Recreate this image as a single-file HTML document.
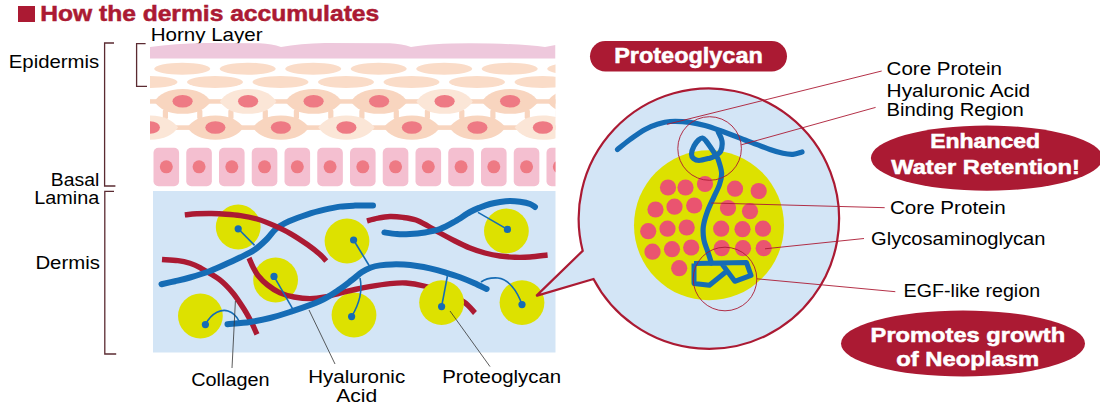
<!DOCTYPE html>
<html lang="en"><head><meta charset="utf-8"><title>How the dermis accumulates</title>
<style>html,body{margin:0;padding:0;background:#fff}svg{display:block}text{font-family:"Liberation Sans",sans-serif}</style></head><body>
<svg width="1100" height="414" viewBox="0 0 1100 414">
<defs><clipPath id="skin"><rect x="150" y="40" width="405.5" height="150"/></clipPath>
<clipPath id="derm"><rect x="153" y="191" width="402.5" height="161.5"/></clipPath></defs>
<rect width="1100" height="414" fill="#fff"/>
<rect x="18" y="6" width="17" height="16" fill="#ab1a33"/>
<text x="40.2" y="21" font-size="21.2" font-weight="bold" stroke="#ab1a33" stroke-width="0.5" fill="#ab1a33" text-anchor="start" textLength="339" lengthAdjust="spacingAndGlyphs">How the dermis accumulates</text>
<text x="150.7" y="40.7" font-size="17.8" fill="#000" text-anchor="start" textLength="111.9" lengthAdjust="spacingAndGlyphs">Horny Layer</text>
<text x="8.8" y="67.6" font-size="17.8" fill="#000" text-anchor="start" textLength="90.4" lengthAdjust="spacingAndGlyphs">Epidermis</text>
<text x="50.8" y="186" font-size="18.3" fill="#000" text-anchor="start" textLength="48.4" lengthAdjust="spacingAndGlyphs">Basal</text>
<text x="34.2" y="203.6" font-size="18.3" fill="#000" text-anchor="start" textLength="65" lengthAdjust="spacingAndGlyphs">Lamina</text>
<text x="35.4" y="268.7" font-size="18.3" fill="#000" text-anchor="start" textLength="64.5" lengthAdjust="spacingAndGlyphs">Dermis</text>
<g fill="none" stroke="#5b2b32" stroke-width="1.3">
<path d="M114 43H104.6V186H115.4"/>
<path d="M145.6 43.6H136.6V86.4H147"/>
<path d="M114 191.4H104.8V354H116.2"/>
</g>
<g clip-path="url(#skin)">
<path d="M150 47 Q175 43.5 205 43 L260 43.3 Q272 44 281 47 Q300 43.5 325 43 L390 43.3 Q402 44 411 47 Q430 43.5 470 43.3 Q520 43.5 545 47 L555.5 45 V58.5 H150Z" fill="#eec8dc"/>
<ellipse cx="182.2" cy="68.7" rx="28" ry="6" fill="#fadcc8"/>
<ellipse cx="247.7" cy="68.7" rx="28" ry="6" fill="#fadcc8"/>
<ellipse cx="313.2" cy="68.7" rx="28" ry="6" fill="#fadcc8"/>
<ellipse cx="378.7" cy="68.7" rx="28" ry="6" fill="#fadcc8"/>
<ellipse cx="444.2" cy="68.7" rx="28" ry="6" fill="#fadcc8"/>
<ellipse cx="509.7" cy="68.7" rx="28" ry="6" fill="#fadcc8"/>
<ellipse cx="575.2" cy="68.7" rx="28" ry="6" fill="#fadcc8"/>
<ellipse cx="149.5" cy="82" rx="28" ry="6" fill="#fadcc8"/>
<ellipse cx="215.0" cy="82" rx="28" ry="6" fill="#fadcc8"/>
<ellipse cx="280.5" cy="82" rx="28" ry="6" fill="#fadcc8"/>
<ellipse cx="346.0" cy="82" rx="28" ry="6" fill="#fadcc8"/>
<ellipse cx="411.5" cy="82" rx="28" ry="6" fill="#fadcc8"/>
<ellipse cx="477.0" cy="82" rx="28" ry="6" fill="#fadcc8"/>
<ellipse cx="542.5" cy="82" rx="28" ry="6" fill="#fadcc8"/>
<rect x="150" y="99.2" width="406" height="4.5" fill="#f8d5bf"/>
<rect x="150" y="125.3" width="406" height="4.6" fill="#f8d5bf"/>
<rect x="162.8" y="109.5" width="5.2" height="9.5" rx="1.5" fill="#f8d5bf"/>
<rect x="197.2" y="109.5" width="5.2" height="9.5" rx="1.5" fill="#f8d5bf"/>
<rect x="228.3" y="109.5" width="5.2" height="9.5" rx="1.5" fill="#f8d5bf"/>
<rect x="262.7" y="109.5" width="5.2" height="9.5" rx="1.5" fill="#f8d5bf"/>
<rect x="293.8" y="109.5" width="5.2" height="9.5" rx="1.5" fill="#f8d5bf"/>
<rect x="328.2" y="109.5" width="5.2" height="9.5" rx="1.5" fill="#f8d5bf"/>
<rect x="359.3" y="109.5" width="5.2" height="9.5" rx="1.5" fill="#f8d5bf"/>
<rect x="393.7" y="109.5" width="5.2" height="9.5" rx="1.5" fill="#f8d5bf"/>
<rect x="424.8" y="109.5" width="5.2" height="9.5" rx="1.5" fill="#f8d5bf"/>
<rect x="459.2" y="109.5" width="5.2" height="9.5" rx="1.5" fill="#f8d5bf"/>
<rect x="490.3" y="109.5" width="5.2" height="9.5" rx="1.5" fill="#f8d5bf"/>
<rect x="524.7" y="109.5" width="5.2" height="9.5" rx="1.5" fill="#f8d5bf"/>
<rect x="555.8" y="109.5" width="5.2" height="9.5" rx="1.5" fill="#f8d5bf"/>
<rect x="590.2" y="109.5" width="5.2" height="9.5" rx="1.5" fill="#f8d5bf"/>
<rect x="621.3" y="109.5" width="5.2" height="9.5" rx="1.5" fill="#f8d5bf"/>
<rect x="655.7" y="109.5" width="5.2" height="9.5" rx="1.5" fill="#f8d5bf"/>
<path d="M154.4 101.4 C159.5 94.0 167.9 89.0 182.6 89.0 C197.3 89.0 205.7 94.0 210.8 101.4 C205.7 108.8 197.3 113.8 182.6 113.8 C167.9 113.8 159.5 108.8 154.4 101.4Z" fill="#f8d5bf"/>
<path d="M219.9 101.4 C225.0 94.0 233.4 89.0 248.1 89.0 C262.8 89.0 271.2 94.0 276.3 101.4 C271.2 108.8 262.8 113.8 248.1 113.8 C233.4 113.8 225.0 108.8 219.9 101.4Z" fill="#fbe6d7"/>
<path d="M285.4 101.4 C290.5 94.0 298.9 89.0 313.6 89.0 C328.3 89.0 336.7 94.0 341.8 101.4 C336.7 108.8 328.3 113.8 313.6 113.8 C298.9 113.8 290.5 108.8 285.4 101.4Z" fill="#f8d5bf"/>
<path d="M350.9 101.4 C356.0 94.0 364.4 89.0 379.1 89.0 C393.8 89.0 402.2 94.0 407.3 101.4 C402.2 108.8 393.8 113.8 379.1 113.8 C364.4 113.8 356.0 108.8 350.9 101.4Z" fill="#f8d5bf"/>
<path d="M416.4 101.4 C421.5 94.0 429.9 89.0 444.6 89.0 C459.3 89.0 467.7 94.0 472.8 101.4 C467.7 108.8 459.3 113.8 444.6 113.8 C429.9 113.8 421.5 108.8 416.4 101.4Z" fill="#fbe6d7"/>
<path d="M481.9 101.4 C487.0 94.0 495.4 89.0 510.1 89.0 C524.8 89.0 533.2 94.0 538.3 101.4 C533.2 108.8 524.8 113.8 510.1 113.8 C495.4 113.8 487.0 108.8 481.9 101.4Z" fill="#f8d5bf"/>
<path d="M547.4 101.4 C552.5 94.0 560.9 89.0 575.6 89.0 C590.3 89.0 598.7 94.0 603.8 101.4 C598.7 108.8 590.3 113.8 575.6 113.8 C560.9 113.8 552.5 108.8 547.4 101.4Z" fill="#f8d5bf"/>
<path d="M121.7 127.6 C126.8 120.3 135.2 115.4 149.9 115.4 C164.6 115.4 173.0 120.3 178.1 127.6 C173.0 134.9 164.6 139.8 149.9 139.8 C135.2 139.8 126.8 134.9 121.7 127.6Z" fill="#fbe6d7"/>
<path d="M187.2 127.6 C192.3 120.3 200.7 115.4 215.4 115.4 C230.1 115.4 238.5 120.3 243.6 127.6 C238.5 134.9 230.1 139.8 215.4 139.8 C200.7 139.8 192.3 134.9 187.2 127.6Z" fill="#f8d5bf"/>
<path d="M252.7 127.6 C257.8 120.3 266.2 115.4 280.9 115.4 C295.6 115.4 304.0 120.3 309.1 127.6 C304.0 134.9 295.6 139.8 280.9 139.8 C266.2 139.8 257.8 134.9 252.7 127.6Z" fill="#f8d5bf"/>
<path d="M318.2 127.6 C323.3 120.3 331.7 115.4 346.4 115.4 C361.1 115.4 369.5 120.3 374.6 127.6 C369.5 134.9 361.1 139.8 346.4 139.8 C331.7 139.8 323.3 134.9 318.2 127.6Z" fill="#fbe6d7"/>
<path d="M383.7 127.6 C388.8 120.3 397.2 115.4 411.9 115.4 C426.6 115.4 435.0 120.3 440.1 127.6 C435.0 134.9 426.6 139.8 411.9 139.8 C397.2 139.8 388.8 134.9 383.7 127.6Z" fill="#f8d5bf"/>
<path d="M449.2 127.6 C454.3 120.3 462.7 115.4 477.4 115.4 C492.1 115.4 500.5 120.3 505.6 127.6 C500.5 134.9 492.1 139.8 477.4 139.8 C462.7 139.8 454.3 134.9 449.2 127.6Z" fill="#f8d5bf"/>
<path d="M514.7 127.6 C519.8 120.3 528.2 115.4 542.9 115.4 C557.6 115.4 566.0 120.3 571.1 127.6 C566.0 134.9 557.6 139.8 542.9 139.8 C528.2 139.8 519.8 134.9 514.7 127.6Z" fill="#fbe6d7"/>
<ellipse cx="182.6" cy="101.3" rx="10.1" ry="6.3" fill="#ee7a84"/>
<ellipse cx="248.1" cy="101.3" rx="10.1" ry="6.3" fill="#ee7a84"/>
<ellipse cx="313.6" cy="101.3" rx="10.1" ry="6.3" fill="#ee7a84"/>
<ellipse cx="379.1" cy="101.3" rx="10.1" ry="6.3" fill="#ee7a84"/>
<ellipse cx="444.6" cy="101.3" rx="10.1" ry="6.3" fill="#ee7a84"/>
<ellipse cx="510.1" cy="101.3" rx="10.1" ry="6.3" fill="#ee7a84"/>
<ellipse cx="575.6" cy="101.3" rx="10.1" ry="6.3" fill="#ee7a84"/>
<ellipse cx="149.9" cy="127.5" rx="10.1" ry="6.3" fill="#ee7a84"/>
<ellipse cx="215.4" cy="127.5" rx="10.1" ry="6.3" fill="#ee7a84"/>
<ellipse cx="280.9" cy="127.5" rx="10.1" ry="6.3" fill="#ee7a84"/>
<ellipse cx="346.4" cy="127.5" rx="10.1" ry="6.3" fill="#ee7a84"/>
<ellipse cx="411.9" cy="127.5" rx="10.1" ry="6.3" fill="#ee7a84"/>
<ellipse cx="477.4" cy="127.5" rx="10.1" ry="6.3" fill="#ee7a84"/>
<ellipse cx="542.9" cy="127.5" rx="10.1" ry="6.3" fill="#ee7a84"/>
<rect x="153.50" y="147.8" width="25.6" height="38.4" rx="5" fill="#f4bfd0"/>
<circle cx="166.30" cy="166.8" r="6.5" fill="#ee7a84"/>
<rect x="186.25" y="147.8" width="25.6" height="38.4" rx="5" fill="#f4bfd0"/>
<circle cx="199.05" cy="166.8" r="6.5" fill="#ee7a84"/>
<rect x="219.00" y="147.8" width="25.6" height="38.4" rx="5" fill="#f4bfd0"/>
<circle cx="231.80" cy="166.8" r="6.5" fill="#ee7a84"/>
<rect x="251.75" y="147.8" width="25.6" height="38.4" rx="5" fill="#f4bfd0"/>
<circle cx="264.55" cy="166.8" r="6.5" fill="#ee7a84"/>
<rect x="284.50" y="147.8" width="25.6" height="38.4" rx="5" fill="#f4bfd0"/>
<circle cx="297.30" cy="166.8" r="6.5" fill="#ee7a84"/>
<rect x="317.25" y="147.8" width="25.6" height="38.4" rx="5" fill="#f4bfd0"/>
<circle cx="330.05" cy="166.8" r="6.5" fill="#ee7a84"/>
<rect x="350.00" y="147.8" width="25.6" height="38.4" rx="5" fill="#f4bfd0"/>
<circle cx="362.80" cy="166.8" r="6.5" fill="#ee7a84"/>
<rect x="382.75" y="147.8" width="25.6" height="38.4" rx="5" fill="#f4bfd0"/>
<circle cx="395.55" cy="166.8" r="6.5" fill="#ee7a84"/>
<rect x="415.50" y="147.8" width="25.6" height="38.4" rx="5" fill="#f4bfd0"/>
<circle cx="428.30" cy="166.8" r="6.5" fill="#ee7a84"/>
<rect x="448.25" y="147.8" width="25.6" height="38.4" rx="5" fill="#f4bfd0"/>
<circle cx="461.05" cy="166.8" r="6.5" fill="#ee7a84"/>
<rect x="481.00" y="147.8" width="25.6" height="38.4" rx="5" fill="#f4bfd0"/>
<circle cx="493.80" cy="166.8" r="6.5" fill="#ee7a84"/>
<rect x="513.75" y="147.8" width="25.6" height="38.4" rx="5" fill="#f4bfd0"/>
<circle cx="526.55" cy="166.8" r="6.5" fill="#ee7a84"/>
<rect x="546.50" y="147.8" width="25.6" height="38.4" rx="5" fill="#f4bfd0"/>
<circle cx="559.30" cy="166.8" r="6.5" fill="#ee7a84"/>
</g>
<rect x="153" y="191" width="402.5" height="161.5" fill="#d3e5f6"/>
<g clip-path="url(#derm)" fill="none" stroke-linecap="butt">
<circle cx="238.2" cy="227" r="22.4" fill="#dde100" stroke="none"/>
<circle cx="347" cy="241" r="22.4" fill="#dde100" stroke="none"/>
<circle cx="200.4" cy="316" r="22.4" fill="#dde100" stroke="none"/>
<circle cx="275.6" cy="280" r="22.4" fill="#dde100" stroke="none"/>
<circle cx="354" cy="315" r="22.4" fill="#dde100" stroke="none"/>
<circle cx="506.4" cy="231" r="22.4" fill="#dde100" stroke="none"/>
<circle cx="522" cy="302.6" r="22.4" fill="#dde100" stroke="none"/>
<g stroke="#ab1a33" stroke-width="5.4">
<path d="M162.0 259.5 C164.7 259.7 173.3 260.0 178.0 260.6 C182.7 261.2 186.3 262.1 190.0 263.3 C193.7 264.5 195.1 265.0 200.0 267.7 C204.9 270.4 213.8 275.1 219.3 279.3 C224.8 283.5 228.9 288.1 232.9 292.9 C236.9 297.7 240.4 303.5 243.5 308.3 C246.6 313.1 248.9 317.5 251.2 321.8 C253.4 326.1 256.0 332.3 257.0 334.4"/>
<path d="M249.0 258.0 C249.7 259.5 251.5 264.1 253.0 267.0 C254.5 269.9 255.6 272.5 258.0 275.5 C260.4 278.5 263.9 282.1 267.6 285.0 C271.3 287.9 275.6 290.9 280.0 292.9 C284.4 294.9 289.0 296.1 294.0 297.0 C299.0 297.9 304.8 298.6 310.0 298.6 C315.2 298.6 320.0 297.9 325.0 297.0 C330.0 296.1 335.0 294.2 340.0 293.0 C345.0 291.8 350.1 290.6 355.0 289.5 C359.9 288.4 363.6 287.6 369.4 286.6 C375.2 285.6 383.9 284.2 390.0 283.6 C396.1 283.0 400.3 282.6 406.0 283.0 C411.7 283.4 417.5 284.4 424.0 286.0 C430.5 287.6 438.3 289.8 445.0 292.5 C451.7 295.2 459.0 298.6 464.0 302.0 C469.0 305.4 473.2 311.2 475.0 313.0"/>
<path d="M367.0 221.0 C368.8 220.5 374.2 218.9 378.0 218.2 C381.8 217.4 385.8 216.6 390.0 216.5 C394.2 216.4 398.7 216.8 403.0 217.4 C407.3 218.0 411.8 218.6 416.0 220.0 C420.2 221.4 424.0 223.8 428.0 226.0 C432.0 228.2 435.5 230.5 440.0 233.0 C444.5 235.5 450.0 238.5 455.0 241.0 C460.0 243.5 465.0 246.0 470.0 248.0 C475.0 250.0 480.0 251.7 485.0 253.0 C490.0 254.3 495.0 255.3 500.0 256.0 C505.0 256.7 510.0 257.1 515.0 257.3 C520.0 257.5 524.6 257.4 530.0 257.0 C535.4 256.6 544.7 255.3 547.6 255.0"/>
</g>
<circle cx="441.6" cy="302.6" r="22.4" fill="#dde100" stroke="none"/>
<g stroke="#156cb5" stroke-width="6" stroke-linecap="round">
<path d="M161.5 284.2 C163.8 283.7 170.2 282.3 175.0 281.2 C179.8 280.1 184.2 279.2 190.0 277.5 C195.8 275.8 204.2 273.2 210.0 271.0 C215.8 268.8 220.0 266.8 225.0 264.5 C230.0 262.2 235.0 260.0 240.0 257.5 C245.0 255.0 250.5 252.6 255.0 249.5 C259.5 246.4 263.4 242.5 267.0 239.0 C270.6 235.5 272.7 231.4 276.4 228.5 C280.1 225.6 283.8 223.7 289.0 221.3 C294.2 218.9 301.8 216.2 307.7 214.3 C313.6 212.4 319.2 211.0 324.6 209.7 C330.0 208.4 334.9 207.3 340.0 206.6 C345.1 205.9 349.5 205.8 355.0 205.6 C360.5 205.4 370.0 205.4 373.0 205.4"/>
<path d="M227.5 324.3 C231.2 323.9 242.9 323.1 250.0 322.0 C257.1 320.9 263.3 319.7 270.0 318.0 C276.7 316.3 281.7 314.8 290.0 312.0 C298.3 309.2 311.7 304.8 320.0 301.0 C328.3 297.2 334.7 292.5 340.0 289.0 C345.3 285.5 348.3 282.8 352.0 280.0 C355.7 277.2 358.8 274.1 362.0 272.0 C365.2 269.9 368.0 268.6 371.0 267.5 C374.0 266.4 376.5 265.9 380.0 265.4 C383.5 264.9 388.0 264.5 392.0 264.4 C396.0 264.3 399.8 264.3 404.0 264.6 C408.2 264.9 412.7 265.4 417.0 266.0 C421.3 266.6 425.3 267.3 430.0 268.4 C434.7 269.4 440.0 270.8 445.0 272.3 C450.0 273.8 455.2 275.4 460.0 277.2 C464.8 279.0 469.6 281.0 474.0 283.0 C478.4 285.0 484.5 288.0 486.6 289.0"/>
<path d="M384.4 232.4 C386.5 232.7 392.7 233.7 397.0 234.0 C401.3 234.3 405.3 234.2 410.0 234.0 C414.7 233.8 420.0 233.3 425.0 232.5 C430.0 231.7 435.0 230.8 440.0 229.0 C445.0 227.2 450.0 224.3 455.0 221.5 C460.0 218.7 465.8 214.3 470.0 212.0 C474.2 209.7 476.7 208.8 480.0 207.5 C483.3 206.2 486.7 204.9 490.0 204.0 C493.3 203.1 496.7 202.5 500.0 202.0 C503.3 201.5 506.7 201.0 510.0 201.0 C513.3 201.0 516.7 201.3 520.0 201.8 C523.3 202.3 527.5 203.1 530.0 204.0 C532.5 204.9 534.2 206.5 535.0 207.0"/>
</g>
<path d="M184.8 214.9 C186.8 214.7 192.4 214.0 196.8 213.8 C201.2 213.6 206.6 213.4 211.4 213.5 C216.2 213.6 221.1 213.8 225.9 214.2 C230.8 214.5 235.3 214.8 240.5 215.6 C245.7 216.4 251.4 217.4 257.0 219.0 C262.6 220.6 268.2 222.9 273.8 225.4 C279.4 227.9 285.2 230.6 290.8 233.8 C296.4 237.0 302.9 241.4 307.7 244.8 C312.5 248.2 316.4 251.3 319.5 254.0 C322.6 256.7 325.2 259.8 326.3 261.0" stroke="#ab1a33" stroke-width="5.4"/>
<g stroke="#156cb5" stroke-width="1.6">
<path d="M238.2 228.8 L254.6 245.4"/>
<path d="M353.6 240 L370 267"/>
<path d="M205.4 324.6 C212 312 222 309 228 311 C234 313 237 317 239 321"/>
<path d="M274 276.4 L292.4 308.4"/>
<path d="M351.6 316.6 C358 306 363 292 360 278"/>
<path d="M507.4 229.4 L478 212.4"/>
<path d="M441.6 306.6 L447.4 276"/>
<path d="M522 304.6 C517 290 508 279 498 278 C490 277.5 485 279 481 282"/>
</g>
<circle cx="238.2" cy="228.8" r="3.6" fill="#156cb5" stroke="none"/>
<circle cx="353.6" cy="240" r="3.6" fill="#156cb5" stroke="none"/>
<circle cx="205.4" cy="324.6" r="3.6" fill="#156cb5" stroke="none"/>
<circle cx="274" cy="276.4" r="3.6" fill="#156cb5" stroke="none"/>
<circle cx="351.6" cy="316.6" r="3.6" fill="#156cb5" stroke="none"/>
<circle cx="507.4" cy="229.4" r="3.6" fill="#156cb5" stroke="none"/>
<circle cx="441.6" cy="306.6" r="3.6" fill="#156cb5" stroke="none"/>
<circle cx="522" cy="304.6" r="3.6" fill="#156cb5" stroke="none"/>
</g>
<g stroke="#333" stroke-width="0.8" fill="none">
<path d="M235.4 301 L232 368"/>
<path d="M309 310 L335 364"/>
<path d="M450 311 L490 366.6"/>
</g>
<text x="191.2" y="386" font-size="18.3" fill="#000" text-anchor="start" textLength="78.4" lengthAdjust="spacingAndGlyphs">Collagen</text>
<text x="308.2" y="382.6" font-size="18.3" fill="#000" text-anchor="start" textLength="97" lengthAdjust="spacingAndGlyphs">Hyaluronic</text>
<text x="336.2" y="402" font-size="18.3" fill="#000" text-anchor="start" textLength="41" lengthAdjust="spacingAndGlyphs">Acid</text>
<text x="442.2" y="382.6" font-size="18.3" fill="#000" text-anchor="start" textLength="119" lengthAdjust="spacingAndGlyphs">Proteoglycan</text>
<rect x="590" y="41" width="197" height="30.6" rx="15.3" fill="#ab1a33"/>
<text x="614.2" y="63" font-size="21.2" font-weight="bold" stroke="#fff" stroke-width="0.5" fill="#fff" text-anchor="start" textLength="148.6" lengthAdjust="spacingAndGlyphs">Proteoglycan</text>
<path d="M582.7 250.8 A130.2 130.2 0 1 1 593.5 279.0 L536.3 295.9Z" fill="#d3e5f6" stroke="#ab1a33" stroke-width="2.2" stroke-linejoin="miter"/>
<circle cx="709" cy="225.3" r="75" fill="#dde100"/>
<circle cx="668" cy="187.5" r="8.1" fill="#ea5470"/>
<circle cx="685.5" cy="187.5" r="8.1" fill="#ea5470"/>
<circle cx="705" cy="184" r="8.1" fill="#ea5470"/>
<circle cx="735" cy="188.7" r="8.1" fill="#ea5470"/>
<circle cx="758.7" cy="191" r="8.1" fill="#ea5470"/>
<circle cx="655.5" cy="209.5" r="8.1" fill="#ea5470"/>
<circle cx="674.5" cy="206.7" r="8.1" fill="#ea5470"/>
<circle cx="694.2" cy="205.5" r="8.1" fill="#ea5470"/>
<circle cx="728" cy="208" r="8.1" fill="#ea5470"/>
<circle cx="750" cy="211.2" r="8.1" fill="#ea5470"/>
<circle cx="648.2" cy="231.2" r="8.1" fill="#ea5470"/>
<circle cx="667.5" cy="228.7" r="8.1" fill="#ea5470"/>
<circle cx="686.7" cy="227.5" r="8.1" fill="#ea5470"/>
<circle cx="721.2" cy="228.7" r="8.1" fill="#ea5470"/>
<circle cx="742.5" cy="229.2" r="8.1" fill="#ea5470"/>
<circle cx="763" cy="228.7" r="8.1" fill="#ea5470"/>
<circle cx="652.5" cy="251.7" r="8.1" fill="#ea5470"/>
<circle cx="672" cy="249.2" r="8.1" fill="#ea5470"/>
<circle cx="691.2" cy="247.5" r="8.1" fill="#ea5470"/>
<circle cx="721.7" cy="248.2" r="8.1" fill="#ea5470"/>
<circle cx="743" cy="248.2" r="8.1" fill="#ea5470"/>
<circle cx="763.7" cy="248.2" r="8.1" fill="#ea5470"/>
<circle cx="679.2" cy="268.2" r="8.1" fill="#ea5470"/>
<g fill="none" stroke="#156cb5" stroke-linecap="round" stroke-linejoin="round">
<path d="M617.5 149.5 C619.6 147.8 625.4 142.8 630.0 139.5 C634.6 136.2 640.3 132.1 645.0 129.5 C649.7 126.9 653.8 125.3 658.0 124.0 C662.2 122.7 664.7 121.8 670.0 121.5 C675.3 121.2 684.2 121.6 690.0 122.3 C695.8 123.0 700.0 124.1 705.0 125.5 C710.0 126.9 713.3 128.1 720.0 130.5 C726.7 132.9 736.7 136.8 745.0 140.0 C753.3 143.2 763.7 147.3 770.0 149.5 C776.3 151.7 779.2 152.5 783.0 153.3 C786.8 154.1 789.8 154.5 793.0 154.3 C796.2 154.1 800.5 152.4 802.0 152.0" stroke-width="5.2"/>
<path d="M718.3 132.0 C718.9 133.5 721.6 137.8 722.0 141.0 C722.4 144.2 721.8 148.9 720.5 151.5 C719.2 154.1 716.0 155.3 714.0 156.5 C712.0 157.7 711.0 157.8 708.5 158.5 C706.0 159.2 701.5 160.5 699.0 160.5 C696.5 160.5 694.8 159.6 693.5 158.5 C692.2 157.4 691.4 156.1 691.5 154.0 C691.6 151.9 692.8 148.3 694.0 146.0 C695.2 143.7 697.1 141.3 698.5 140.0 C699.9 138.7 701.2 137.8 702.5 138.0 C703.8 138.2 704.8 139.6 706.0 141.0 C707.2 142.4 708.5 144.3 710.0 146.5 C711.5 148.7 713.7 151.9 715.0 154.0 C716.3 156.1 716.9 155.8 718.0 159.0 C719.1 162.2 721.4 168.8 721.6 173.0 C721.9 177.2 720.9 180.4 719.5 184.5 C718.1 188.6 715.6 193.2 713.5 197.8 C711.4 202.4 708.8 207.5 707.1 212.3 C705.4 217.1 703.8 222.2 703.3 226.8 C702.8 231.4 703.2 235.8 703.9 239.9 C704.6 244.0 706.5 247.6 707.7 251.4 C709.0 255.2 710.8 261.1 711.4 263.0" stroke-width="5.2"/>
<path d="M694 263.5 L746.5 262.6 L751 275.3 L734.8 281.3 L722 264 M727 271 L709.4 285.3 L694 283.5 L694 263.5" stroke-width="5" stroke-linejoin="round" stroke-linecap="butt"/>
</g>
<g fill="none" stroke="#ab1a33" stroke-width="0.9">
<circle cx="709.6" cy="148.5" r="31.8"/>
<circle cx="725" cy="279" r="31.8"/>
<path d="M667 124.3 L881.7 71"/>
<path d="M741.3 144.8 L875.6 107.4"/>
<path d="M711.2 203 L884.7 207.7"/>
<path d="M765 248.8 L864 238.5"/>
<path d="M756.8 278.8 L895.3 291.7"/>
</g>
<text x="886.6" y="74.6" font-size="18.3" fill="#000" text-anchor="start" textLength="115.3" lengthAdjust="spacingAndGlyphs">Core Protein</text>
<text x="886.6" y="96.8" font-size="18.3" fill="#000" text-anchor="start" textLength="143.6" lengthAdjust="spacingAndGlyphs">Hyaluronic Acid</text>
<text x="886.6" y="116" font-size="18.3" fill="#000" text-anchor="start" textLength="137.2" lengthAdjust="spacingAndGlyphs">Binding Region</text>
<text x="890.0" y="213.9" font-size="18.3" fill="#000" text-anchor="start" textLength="115.6" lengthAdjust="spacingAndGlyphs">Core Protein</text>
<text x="871.1" y="244.7" font-size="18.3" fill="#000" text-anchor="start" textLength="174.4" lengthAdjust="spacingAndGlyphs">Glycosaminoglycan</text>
<text x="903.6" y="296.6" font-size="18.3" fill="#000" text-anchor="start" textLength="136.5" lengthAdjust="spacingAndGlyphs">EGF-like region</text>
<ellipse cx="986.8" cy="158.1" rx="115.9" ry="32.6" fill="#ab1a33"/>
<text x="930.2" y="148.3" font-size="19.8" font-weight="bold" stroke="#fff" stroke-width="0.5" fill="#fff" text-anchor="start" textLength="109.9" lengthAdjust="spacingAndGlyphs">Enhanced</text>
<text x="891.2" y="174.1" font-size="19.8" font-weight="bold" stroke="#fff" stroke-width="0.5" fill="#fff" text-anchor="start" textLength="188.8" lengthAdjust="spacingAndGlyphs">Water Retention!</text>
<ellipse cx="963" cy="343.5" rx="122" ry="33" fill="#ab1a33"/>
<text x="870.6" y="341.5" font-size="19.8" font-weight="bold" stroke="#fff" stroke-width="0.5" fill="#fff" text-anchor="start" textLength="194.6" lengthAdjust="spacingAndGlyphs">Promotes growth</text>
<text x="896.2" y="365.7" font-size="19.8" font-weight="bold" stroke="#fff" stroke-width="0.5" fill="#fff" text-anchor="start" textLength="143" lengthAdjust="spacingAndGlyphs">of Neoplasm</text>
</svg></body></html>
